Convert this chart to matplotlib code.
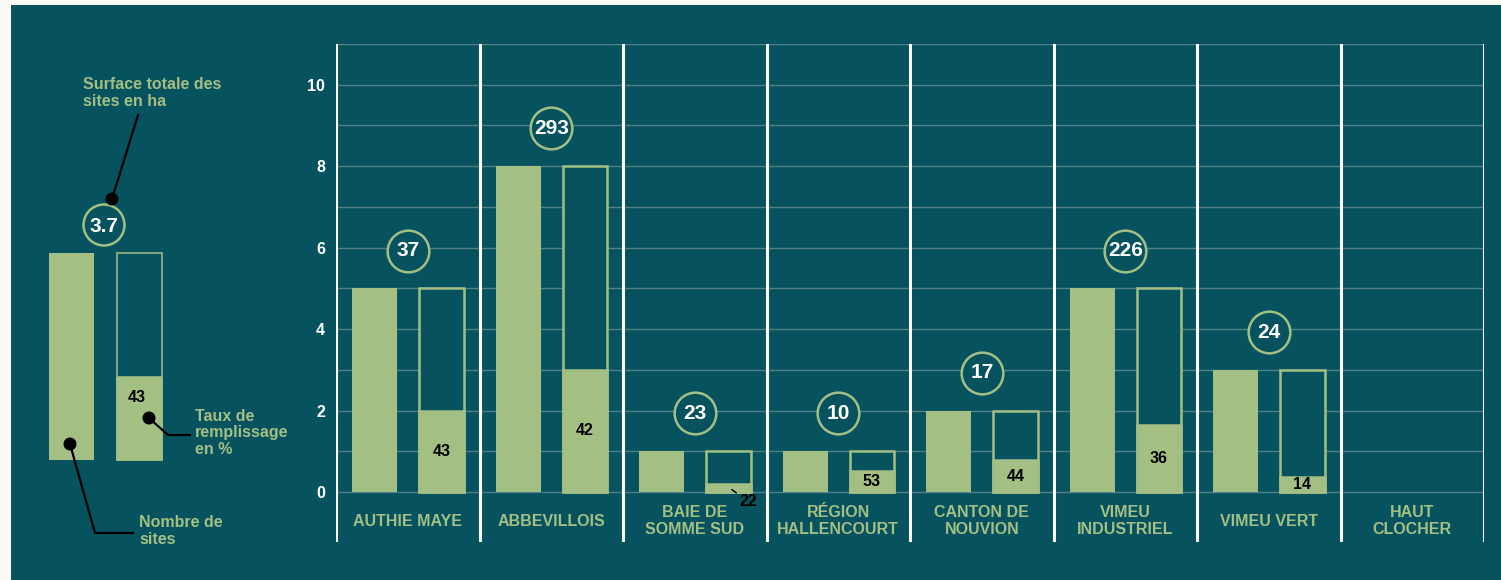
import numpy as np
import matplotlib.pyplot as plt
from matplotlib.patches import Rectangle, Circle

plt.rcParams['font.family'] = ['Liberation Sans', 'DejaVu Sans']
plt.rcParams['font.weight'] = 'bold'

teal = '#06525E'
green = '#A4BF83'
grid_col = '#4F8189'

# data
categories = ['AUTHIE MAYE', 'ABBEVILLOIS', 'BAIE DE\nSOMME SUD', 'RÉGION\nHALLENCOURT',
              'CANTON DE\nNOUVION', 'VIMEU\nINDUSTRIEL', 'VIMEU VERT', 'HAUT\nCLOCHER']
nb_sites = [5, 8, 1, 1, 2, 5, 3, 0]
surface_ha = [37, 293, 23, 10, 17, 226, 24, None]
taux_remplissage = [43, 42, 22, 53, 44, 36, 14, None]
fill_level = [2.0, 3.0, 0.2, 0.52, 0.78, 1.64, 0.37, 0]

legend_surface = '3.7'
legend_taux = 43

fig = plt.figure(figsize=(15.01, 5.8), dpi=100)
fig.patch.set_facecolor('#FAFBF4')

# background + legend, drawn in pixel coordinates
lg = fig.add_axes([0, 0, 1, 1], zorder=0)
lg.set_xlim(0, 1501)
lg.set_ylim(580, 0)
lg.axis('off')
lg.add_patch(Rectangle((11, 5), 1490, 575, facecolor=teal, edgecolor='none'))
lg.add_patch(Rectangle((49, 253), 45, 207, facecolor=green, edgecolor='none'))
lg.add_patch(Rectangle((117, 253), 45, 207, facecolor=teal, edgecolor=green, linewidth=1.1))
lg.add_patch(Rectangle((117, 377), 45, 83, facecolor=green, edgecolor=green, linewidth=1.1))
lg.text(137, 397, str(legend_taux), ha='center', va='center', color='black', fontsize=11.5)
lg.add_patch(Circle((104, 225), 20.5, facecolor=teal, edgecolor=green, linewidth=1.8))
lg.text(104, 226, legend_surface, ha='center', va='center', color='white', fontsize=15)

lg.plot([112, 138], [199, 115], color='black', lw=1.6)
lg.plot([149, 168, 190], [418, 435, 435], color='black', lw=1.6)
lg.plot([70, 95, 133], [444, 533, 533], color='black', lw=1.6)
for cx, cy in [(112, 199), (149, 418), (70, 444)]:
    lg.add_patch(Circle((cx, cy), 6.5, facecolor='black', edgecolor='none'))

lg.text(83, 93, 'Surface totale des\nsites en ha', ha='left', va='center', color=green,
        fontsize=11.5, linespacing=1.2)
lg.text(195, 433, 'Taux de\nremplissage\nen %', ha='left', va='center', color=green,
        fontsize=11.5, linespacing=1.15)
lg.text(139, 531, 'Nombre de\nsites', ha='left', va='center', color=green,
        fontsize=11.5, linespacing=1.15)

ax = fig.add_axes([336 / 1501, 1 - 542 / 580, 1148 / 1501, 498 / 580], zorder=1)
ax.set_facecolor('none')
ax.set_xlim(0, 8)
ax.set_ylim(-1.225, 11)
ax.set_yticks(range(0, 11, 2))
ax.set_yticks(range(1, 12, 2), minor=True)
ax.grid(True, axis='y', which='both', color=grid_col, linewidth=1)
ax.set_axisbelow(True)
ax.tick_params(axis='y', which='both', length=0, pad=8, labelcolor='white', labelsize=11.5)
ax.set_xticks([])
for s in ax.spines.values():
    s.set_visible(False)
for lab in ax.get_yticklabels():
    lab.set_fontweight('bold')

for v in range(9):
    ax.axvline(v, color='white', linewidth=2.2, zorder=4)

x = np.arange(len(categories)) + 0.5
has = np.array(nb_sites) > 0
xs = x[has]
sites = np.array(nb_sites)[has]
fills = np.array(fill_level)[has]
w = 0.31
ax.bar(xs - 0.23, sites, width=w + 0.004, color=green, zorder=2)
ax.bar(xs + 0.235, sites, width=w, facecolor=teal, edgecolor=green, linewidth=1.8, zorder=2)
ax.bar(xs + 0.235, fills, width=w, facecolor=green, edgecolor=green, linewidth=1.8, zorder=2)

for i in range(len(categories)):
    ax.text(x[i], -0.71, categories[i], ha='center', va='center', color=green,
            fontsize=11.5, fontweight='bold', linespacing=1.15)
    if surface_ha[i] is None:
        continue
    cy = nb_sites[i] + 0.93
    ax.scatter([x[i]], [cy], s=900, facecolor=teal, edgecolor=green, linewidth=1.8, zorder=3)
    ax.text(x[i], cy, str(surface_ha[i]), ha='center', va='center', color='white',
            fontsize=15, fontweight='bold', zorder=5)
    if fill_level[i] >= 0.3:
        ax.text(x[i] + 0.235, fill_level[i] / 2, str(taux_remplissage[i]), ha='center',
                va='center', color='black', fontsize=11.5, fontweight='bold', zorder=5)
    else:
        ax.annotate(str(taux_remplissage[i]), xy=(x[i] + 0.235, fill_level[i] / 2 + 0.02),
                    xytext=(14, -10), textcoords='offset points', ha='center', va='center',
                    color='black', fontsize=11.5, fontweight='bold', zorder=5,
                    arrowprops=dict(arrowstyle='-', color='black', lw=1.1, shrinkA=0, shrinkB=3))

plt.savefig('out.png', dpi=100, facecolor=fig.get_facecolor())
